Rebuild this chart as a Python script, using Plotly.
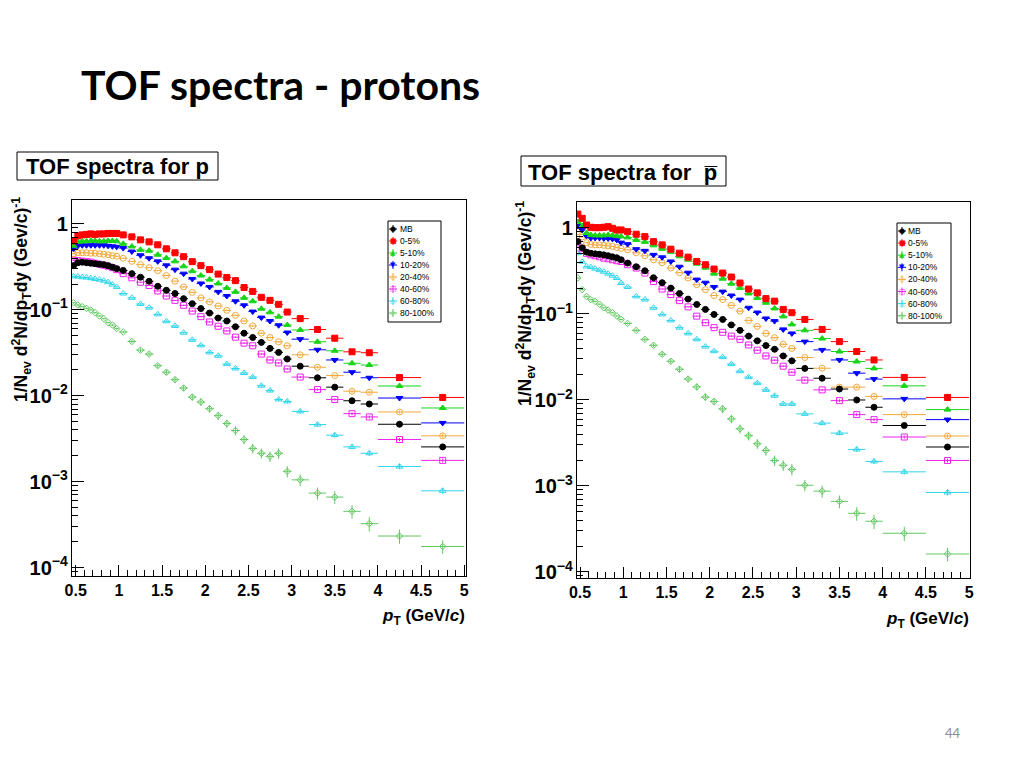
import plotly.graph_objects as go

# ---------------- data ----------------
pt = [0.475, 0.525, 0.575, 0.625, 0.675, 0.725, 0.775, 0.825, 0.875, 0.925, 0.975,
      1.05, 1.15, 1.25, 1.35, 1.45, 1.55, 1.65, 1.75, 1.85, 1.95,
      2.05, 2.15, 2.25, 2.35, 2.45, 2.55, 2.65, 2.75, 2.85, 2.95,
      3.1, 3.3, 3.5, 3.7, 3.9, 4.25, 4.75]
pt_halfwidth = [0.025, 0.025, 0.025, 0.025, 0.025, 0.025, 0.025, 0.025, 0.025, 0.025, 0.025,
                0.05, 0.05, 0.05, 0.05, 0.05, 0.05, 0.05, 0.05, 0.05, 0.05,
                0.05, 0.05, 0.05, 0.05, 0.05, 0.05, 0.05, 0.05, 0.05, 0.05,
                0.1, 0.1, 0.1, 0.1, 0.1, 0.25, 0.25]

centrality = ["MB", "0-5%", "5-10%", "10-20%", "20-40%", "40-60%", "60-80%", "80-100%"]

# protons
p_MB = [0.327, 0.354, 0.359, 0.354, 0.349, 0.345, 0.340, 0.336, 0.327, 0.314, 0.302,
        0.288, 0.264, 0.240, 0.215, 0.188, 0.169, 0.155, 0.135, 0.118, 0.1035,
        0.0918, 0.0804, 0.0742, 0.0636, 0.0535, 0.0477, 0.0418, 0.0356, 0.0320, 0.0268,
        0.0221, 0.0162, 0.0126, 0.00875, 0.00802, 0.00466, 0.00254]
p_0_5 = [0.636, 0.727, 0.746, 0.756, 0.766, 0.756, 0.766, 0.766, 0.776, 0.776, 0.776,
         0.746, 0.708, 0.653, 0.619, 0.572, 0.514, 0.462, 0.416, 0.364, 0.327,
         0.294, 0.261, 0.238, 0.219, 0.182, 0.164, 0.140, 0.129, 0.116, 0.0943,
         0.0791, 0.0590, 0.0468, 0.0325, 0.0317, 0.01628, 0.00956]
p_5_10 = [0.557, 0.619, 0.628, 0.628, 0.636, 0.636, 0.628, 0.628, 0.636, 0.636, 0.628,
          0.587, 0.547, 0.500, 0.487, 0.438, 0.401, 0.367, 0.321, 0.282, 0.251,
          0.225, 0.203, 0.180, 0.162, 0.138, 0.126, 0.103, 0.0936, 0.0834, 0.0667,
          0.0584, 0.0425, 0.0334, 0.0239, 0.0228, 0.0130, 0.00721]
p_10_20 = [0.514, 0.557, 0.565, 0.565, 0.565, 0.565, 0.565, 0.565, 0.557, 0.549, 0.542,
           0.524, 0.478, 0.432, 0.399, 0.367, 0.330, 0.294, 0.264, 0.229, 0.203,
           0.185, 0.162, 0.145, 0.126, 0.113, 0.0956, 0.0813, 0.0742, 0.0662, 0.0545,
           0.0456, 0.0343, 0.0261, 0.0188, 0.0162, 0.00941, 0.00483]
p_20_40 = [0.450, 0.462, 0.462, 0.462, 0.456, 0.456, 0.450, 0.444, 0.438, 0.427, 0.421,
           0.399, 0.367, 0.336, 0.310, 0.286, 0.251, 0.216, 0.185, 0.160, 0.138,
           0.124, 0.111, 0.0987, 0.0864, 0.0742, 0.0650, 0.0535, 0.0477, 0.0425, 0.0382,
           0.0300, 0.0215, 0.0172, 0.0113, 0.0110, 0.00648, 0.00342]
p_40_60 = [0.379, 0.374, 0.369, 0.364, 0.359, 0.349, 0.340, 0.331, 0.322, 0.310, 0.294,
           0.264, 0.236, 0.210, 0.192, 0.166, 0.145, 0.129, 0.113, 0.0969, 0.0834,
           0.0723, 0.0645, 0.0569, 0.0481, 0.0410, 0.0382, 0.0306, 0.0261, 0.0241, 0.0205,
           0.0165, 0.0118, 0.00906, 0.00619, 0.00567, 0.00310, 0.00177]
p_60_80 = [0.246, 0.244, 0.240, 0.238, 0.234, 0.229, 0.225, 0.219, 0.210, 0.197, 0.185,
           0.155, 0.138, 0.117, 0.106, 0.0887, 0.0736, 0.0650, 0.0542, 0.0448, 0.0386,
           0.0320, 0.0292, 0.0234, 0.0208, 0.0184, 0.0165, 0.0131, 0.0115, 0.00906, 0.00859,
           0.00658, 0.00462, 0.00348, 0.00254, 0.00214, 0.00150, 0.000783]
p_80_100 = [0.121, 0.114, 0.109, 0.104, 0.0995, 0.0928, 0.0848, 0.0791, 0.0711, 0.0667, 0.0606,
            0.0553, 0.0429, 0.0340, 0.0306, 0.0224, 0.0188, 0.0154, 0.0123, 0.00966, 0.00846,
            0.00707, 0.00587, 0.00475, 0.00394, 0.00310, 0.00244, 0.00214, 0.00197, 0.00214, 0.00132,
            0.00105, 0.000736, 0.000662, 0.000452, 0.000325, 0.000233, 0.000176]

# antiprotons
pb_MB = [0.694, 0.587, 0.524, 0.508, 0.500, 0.494, 0.487, 0.475, 0.462, 0.450, 0.427,
         0.391, 0.354, 0.318, 0.264, 0.231, 0.200, 0.173, 0.149, 0.129, 0.113,
         0.0987, 0.0864, 0.0746, 0.0645, 0.0553, 0.0487, 0.0429, 0.0389, 0.0325, 0.0285,
         0.0233, 0.0179, 0.0134, 0.0100, 0.00823, 0.00505, 0.00284]
pb_0_5 = [1.451, 1.295, 1.083, 1.019, 1.008, 1.008, 1.019, 1.035, 0.992, 0.948, 0.948,
          0.906, 0.846, 0.793, 0.694, 0.636, 0.567, 0.509, 0.458, 0.408, 0.374,
          0.333, 0.299, 0.269, 0.229, 0.195, 0.176, 0.151, 0.141, 0.113, 0.1035,
          0.0864, 0.0662, 0.0477, 0.0366, 0.0292, 0.0183, 0.0107]
pb_5_10 = [1.173, 1.055, 0.875, 0.830, 0.819, 0.819, 0.819, 0.830, 0.819, 0.808, 0.797,
           0.777, 0.727, 0.689, 0.628, 0.572, 0.528, 0.468, 0.427, 0.384, 0.345,
           0.294, 0.257, 0.225, 0.200, 0.173, 0.153, 0.135, 0.116, 0.0936, 0.0756,
           0.0645, 0.0518, 0.0366, 0.0280, 0.0233, 0.0146, 0.00773]
pb_10_20 = [1.055, 0.948, 0.808, 0.766, 0.766, 0.766, 0.756, 0.756, 0.746, 0.727, 0.676,
            0.648, 0.567, 0.542, 0.487, 0.456, 0.408, 0.354, 0.302, 0.251, 0.231,
            0.206, 0.182, 0.164, 0.147, 0.118, 0.104, 0.0887, 0.0826, 0.0662, 0.0594,
            0.0477, 0.0382, 0.0292, 0.0205, 0.0175, 0.0103, 0.00591]
pb_20_40 = [0.906, 0.787, 0.676, 0.645, 0.636, 0.636, 0.628, 0.619, 0.611, 0.595, 0.579,
            0.557, 0.514, 0.475, 0.427, 0.394, 0.342, 0.302, 0.262, 0.219, 0.192,
            0.164, 0.147, 0.126, 0.108, 0.0841, 0.0717, 0.0594, 0.0530, 0.0444, 0.0397,
            0.0312, 0.0234, 0.0141, 0.0141, 0.0110, 0.00676, 0.00381]
pb_40_60 = [0.671, 0.572, 0.507, 0.487, 0.475, 0.462, 0.446, 0.438, 0.427, 0.416, 0.408,
            0.374, 0.342, 0.299, 0.238, 0.195, 0.168, 0.143, 0.121, 0.0943, 0.0791,
            0.0693, 0.0612, 0.0553, 0.0507, 0.0436, 0.0379, 0.0325, 0.0290, 0.0247, 0.0210,
            0.0170, 0.0131, 0.00982, 0.00676, 0.00591, 0.00371, 0.00198]
pb_60_80 = [0.509, 0.405, 0.357, 0.350, 0.336, 0.323, 0.310, 0.294, 0.279, 0.262, 0.229,
            0.206, 0.160, 0.147, 0.118, 0.0987, 0.0841, 0.0693, 0.0594, 0.0507, 0.0418,
            0.0369, 0.0315, 0.0261, 0.0216, 0.0184, 0.0157, 0.0131, 0.0112, 0.00899, 0.00899,
            0.00689, 0.00538, 0.00412, 0.00266, 0.00193, 0.00146, 0.000841]
pb_80_100 = [0.262, 0.192, 0.160, 0.147, 0.140, 0.130, 0.118, 0.111, 0.1035, 0.0948, 0.0864,
             0.0777, 0.0645, 0.0507, 0.0432, 0.0340, 0.0282, 0.0228, 0.0175, 0.0142, 0.0108,
             0.00961, 0.00787, 0.00603, 0.00462, 0.00384, 0.00310, 0.00259, 0.00198, 0.00174, 0.00156,
             0.00102, 0.000871, 0.000662, 0.000481, 0.000389, 0.000282, 0.000162]

# relative statistical errors (vertical bars)
rel_err_central = [0.01, 0.01, 0.01, 0.01, 0.01, 0.01, 0.01, 0.01, 0.01, 0.01, 0.01,
                   0.01, 0.01, 0.01, 0.01, 0.01, 0.01, 0.01, 0.015, 0.015, 0.015,
                   0.015, 0.015, 0.02, 0.02, 0.02, 0.02, 0.02, 0.025, 0.025, 0.025,
                   0.03, 0.03, 0.035, 0.04, 0.04, 0.04, 0.05]
rel_err_60_80 = [0.015, 0.015, 0.015, 0.015, 0.015, 0.015, 0.015, 0.015, 0.015, 0.015, 0.015,
                 0.015, 0.02, 0.02, 0.02, 0.02, 0.025, 0.025, 0.025, 0.03, 0.03,
                 0.03, 0.035, 0.035, 0.035, 0.04, 0.04, 0.04, 0.045, 0.045, 0.05,
                 0.05, 0.055, 0.06, 0.065, 0.07, 0.07, 0.08]
rel_err_80_100 = [0.02, 0.02, 0.02, 0.02, 0.02, 0.02, 0.02, 0.02, 0.02, 0.02, 0.025,
                  0.03, 0.04, 0.05, 0.05, 0.06, 0.07, 0.08, 0.08, 0.09, 0.10,
                  0.10, 0.11, 0.11, 0.12, 0.12, 0.13, 0.13, 0.14, 0.14, 0.15,
                  0.15, 0.16, 0.17, 0.18, 0.19, 0.19, 0.18]

# ---------------- styles ----------------
colors = ["#000000", "#ff0000", "#19d419", "#0000ff", "#f2a93b", "#ee22ee", "#2fd5ea", "#62c862"]
symbols = ["circle", "square", "triangle-up", "triangle-down",
           "circle-open", "square-open", "triangle-up-open", "diamond-open"]
sizes = [6, 6, 6, 6, 6, 6, 6, 5]
legend_glyph = ["●", "■", "▲", "▼", "○", "□", "△", "◇"]

proton_sets = [p_MB, p_0_5, p_5_10, p_10_20, p_20_40, p_40_60, p_60_80, p_80_100]
antiproton_sets = [pb_MB, pb_0_5, pb_5_10, pb_10_20, pb_20_40, pb_40_60, pb_60_80, pb_80_100]
err_sets = [rel_err_central] * 6 + [rel_err_60_80, rel_err_80_100]

# The page body keeps its default 8px margin, so the figure is 1008x752 and
# page pixel coordinates are converted to paper fractions with that offset.
PAGE_MARGIN = 8
W, H = 1024 - 2 * PAGE_MARGIN, 768 - 2 * PAGE_MARGIN


def fx(x):
    return (x - PAGE_MARGIN) / W


def fy(y):
    return 1 - (y - PAGE_MARGIN) / H


fig = go.Figure()
draw_order = [7, 6, 5, 4, 3, 2, 1, 0]
for panel, sets in enumerate([proton_sets, antiproton_sets]):
    xa = "x" if panel == 0 else "x2"
    ya = "y" if panel == 0 else "y2"
    for i in draw_order:
        vals = sets[i]
        errs = [v * e for v, e in zip(vals, err_sets[i])]
        fig.add_trace(go.Scatter(
            x=pt, y=vals, mode="markers", xaxis=xa, yaxis=ya,
            name=centrality[i], showlegend=False, hoverinfo="skip",
            marker=dict(symbol=symbols[i], size=sizes[i], color=colors[i],
                        line=dict(color=colors[i], width=1)),
            error_x=dict(type="data", array=pt_halfwidth, color=colors[i], thickness=1, width=0),
            error_y=dict(type="data", array=errs, color=colors[i], thickness=1, width=0),
        ))

tickfont = dict(family="Liberation Sans", size=16, color="black", weight="bold")


def xaxis_cfg(domain, rng, anchor):
    return dict(domain=domain, range=rng, anchor=anchor, automargin=False,
                showline=True, mirror=True, linecolor="black",
                linewidth=1, ticks="inside", ticklen=11, tickcolor="black", tick0=0.5, dtick=0.5,
                minor=dict(ticks="inside", ticklen=6, dtick=0.1, tick0=0.5, tickcolor="black",
                           showgrid=False),
                showgrid=False, zeroline=False, tickfont=tickfont)


def yaxis_cfg(domain, rng, anchor):
    return dict(type="log", domain=domain, range=rng, anchor=anchor, automargin=False,
                showline=True, mirror=True,
                linecolor="black", linewidth=1, ticks="inside", ticklen=12, tickcolor="black",
                dtick=1, exponentformat="power",
                minor=dict(ticks="inside", ticklen=6, dtick="D1", tickcolor="black", showgrid=False),
                showgrid=False, zeroline=False, tickfont=tickfont)


fig.update_layout(
    width=W, height=H, autosize=False,
    margin=dict(l=0, r=0, t=0, b=0, pad=0, autoexpand=False),
    paper_bgcolor="white", plot_bgcolor="white",
    showlegend=False,
    xaxis=xaxis_cfg([fx(72), fx(466)], [0.457, 5.02], "y"),
    yaxis=yaxis_cfg([fy(576), fy(200)], [-4.098, 0.279], "x"),
    xaxis2=xaxis_cfg([fx(577), fx(970)], [0.465, 5.01], "y2"),
    yaxis2=yaxis_cfg([fy(578), fy(202)], [-4.07, 0.302], "x2"),
)

ann = []
shapes = []


def text_at(text, x, y, size, family="Liberation Sans", color="black",
            xanchor="center", yanchor="middle", angle=0):
    ann.append(dict(text=text, x=fx(x), y=fy(y), xref="paper", yref="paper",
                    xanchor=xanchor, yanchor=yanchor, showarrow=False, textangle=angle,
                    font=dict(family=family, size=size, color=color), borderpad=0))


def box(x0, y0, x1, y1):
    shapes.append(dict(type="rect", xref="paper", yref="paper", x0=fx(x0), x1=fx(x1),
                       y0=fy(y1), y1=fy(y0), line=dict(color="black", width=1), fillcolor="white",
                       layer="below"))


def seg(x0, y0, x1, y1, color):
    shapes.append(dict(type="line", xref="paper", yref="paper", x0=fx(x0), x1=fx(x1),
                       y0=fy(y0), y1=fy(y1), line=dict(color=color, width=1)))


# slide title
text_at("<b>TOF spectra - protons</b>", 80, 85, 41, family="Lato", xanchor="left")
# panel titles in boxes
box(17, 152, 218, 180)
box(521, 156, 726, 186)
text_at("<b>TOF spectra for p</b>", 117, 166, 22)
text_at("<b>TOF spectra for  p\u0305</b>", 623, 172, 22)

ytitle = "<b>1/N<sub>ev</sub> d<sup>2</sup>N/dp<sub>T</sub>dy (Gev/c)<sup>-1</sup></b>"
xtitle = "<b><i>p</i><sub>T</sub> (GeV/<i>c</i>)</b>"
text_at(ytitle, 21, 300, 17.5, angle=-90)
text_at(ytitle, 526, 304, 17.5, angle=-90)
text_at(xtitle, 466, 617, 17, xanchor="right")
text_at(xtitle, 970, 620, 17, xanchor="right")

# legends (box + error-cross + marker glyph + label)
for (bx0, by0, bx1, by1, gx, tx, ty0, dy) in [(388, 221, 441, 322, 393, 399, 229, 12),
                                             (897, 223, 951, 323, 902, 907, 231, 12.1)]:
    box(bx0, by0, bx1, by1)
    for k, lab in enumerate(centrality):
        yy = ty0 + k * dy
        seg(gx - 4, yy, gx + 4, yy, colors[k])
        seg(gx, yy - 4, gx, yy + 4, colors[k])
        text_at(legend_glyph[k], gx, yy, 7, family="DejaVu Sans", color=colors[k])
        text_at(lab, tx, yy, 8.5, xanchor="left")

# page number
text_at("44", 953, 733, 13, family="Lato", color="#8c8c8c")

fig.update_layout(annotations=ann, shapes=shapes)
fig.write_html("out.html", config={"displayModeBar": False})
